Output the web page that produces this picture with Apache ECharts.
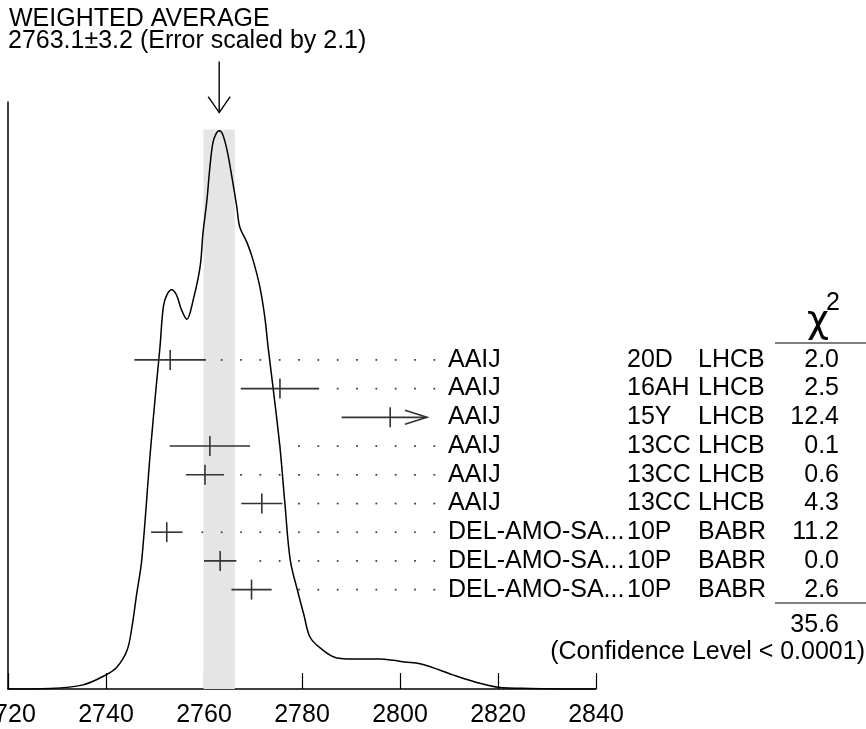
<!DOCTYPE html>
<html>
<head>
<meta charset="utf-8">
<title>Weighted average ideogram</title>
<script src="https://cdn.jsdelivr.net/npm/echarts@6/dist/echarts.min.js"></script>
<style>
    html, body { margin: 0; padding: 0; background: #fff; }
    #main { width: 866px; height: 729px; }
</style>
</head>
<body>
<div id="main"></div>
<script>
// ideogram curve (mass, relative density)
var idMass = [2720.0, 2728.6, 2735.3, 2740.0, 2742.2, 2744.3, 2745.3, 2746.3, 2747.3, 2749.0,
    2750.2, 2751.0, 2751.7, 2752.4, 2753.4, 2754.4, 2755.4, 2756.5, 2757.8, 2759.2,
    2759.8, 2760.6, 2761.2, 2761.8, 2762.4, 2763.1, 2763.8, 2764.7, 2765.7, 2766.7,
    2767.3, 2768.8, 2770.0, 2771.4, 2772.4, 2773.1, 2774.1, 2775.5, 2776.5, 2777.6,
    2779.2, 2780.4, 2781.6, 2783.7, 2787.1, 2791.8, 2795.9, 2798.6, 2801.0, 2804.1,
    2808.2, 2810.8, 2815.3, 2820.0, 2826.5, 2840.0];
var idDensity = [0.000, 0.001, 0.007, 0.024, 0.037, 0.066, 0.106, 0.164, 0.220, 0.399,
    0.511, 0.581, 0.651, 0.671, 0.680, 0.671, 0.646, 0.630, 0.663, 0.719,
    0.777, 0.833, 0.889, 0.930, 0.945, 0.951, 0.945, 0.918, 0.872, 0.821,
    0.787, 0.760, 0.731, 0.685, 0.634, 0.581, 0.513, 0.412, 0.317, 0.220,
    0.164, 0.126, 0.089, 0.070, 0.053, 0.051, 0.051, 0.049, 0.046, 0.043,
    0.032, 0.024, 0.012, 0.003, 0.001, 0.000];

var avgMass = 2763.1;
var avgErr = 3.2;
var avgTop = 0.953;

// measurements
var authors = ["AAIJ", "AAIJ", "AAIJ", "AAIJ", "AAIJ", "AAIJ", "DEL-AMO-SA...", "DEL-AMO-SA...", "DEL-AMO-SA..."];
var refs = ["20D", "16AH", "15Y", "13CC", "13CC", "13CC", "10P", "10P", "10P"];
var exps = ["LHCB", "LHCB", "LHCB", "LHCB", "LHCB", "LHCB", "BABR", "BABR", "BABR"];
var chi2 = ["2.0", "2.5", "12.4", "0.1", "0.6", "4.3", "11.2", "0.0", "2.6"];
var masses = [2753.1, 2775.5, 2798.0, 2761.2, 2760.2, 2771.8, 2752.4, 2763.3, 2769.7];
var sigmas = [7.3, 8.0, 9.9, 8.2, 3.9, 4.2, 3.2, 3.3, 4.1];
var chi2Total = "35.6";
var clText = "(Confidence Level < 0.0001)";

var xTicks = [2720, 2840, 20];

var FAMILY = "'Liberation Sans', Arial, Helvetica, sans-serif";
var FONT = "25px " + FAMILY;
var LABEL_X = 448, REF_X = 627, EXP_X = 698, CHI_X = 839;
var DOT_PITCH = 19.33;
var INK = "#333";

var rows = masses.map(function (m, i) {
    return [m, sigmas[i], i];
});

function txt(s, x, y, align, font) {
    return {
        type: "text",
        style: {
            text: s, x: x, y: y, font: font || FONT, fill: "#000",
            align: align || "left", verticalAlign: "middle"
        }
    };
}

function seg(x1, y1, x2, y2, w, col) {
    return {
        type: "line",
        shape: { x1: x1, y1: y1, x2: x2, y2: y2 },
        style: { stroke: col || INK, lineWidth: w || 1.6 }
    };
}

function renderRow(params, api) {
    var m = api.value(0), s = api.value(1), r = api.value(2);
    var c = api.coord([m, r]);
    var y = c[1];
    var x1 = api.coord([m - s, r])[0];
    var x2 = api.coord([m + s, r])[0];
    var x0 = api.coord([xTicks[0], r])[0];
    var end = LABEL_X - 12;
    var children = [];
    if (x2 > end) {
        var tip = LABEL_X - 21;
        children.push(seg(x1, y, tip, y));
        children.push({
            type: "polyline",
            shape: { points: [[tip - 22, y - 7], [tip, y], [tip - 22, y + 7]] },
            style: { stroke: INK, lineWidth: 1.6, fill: null }
        });
    } else {
        children.push(seg(x1, y, x2, y));
        for (var k = 0; ; k++) {
            var dx = x0 + 1 + k * DOT_PITCH;
            if (dx > end) break;
            if (dx >= x2 + 13) {
                children.push({
                    type: "rect",
                    shape: { x: dx - 0.8, y: y - 0.8, width: 1.7, height: 1.7 },
                    style: { fill: INK }
                });
            }
        }
    }
    children.push(seg(c[0], y - 10, c[0], y + 10));
    var i = params.dataIndex;
    children.push(txt(authors[i], LABEL_X, y));
    children.push(txt(refs[i], REF_X, y));
    children.push(txt(exps[i], EXP_X, y));
    children.push(txt(chi2[i], CHI_X, y, "right"));
    return { type: "group", children: children };
}

function renderAvg(params, api) {
    var p = api.coord([api.value(0), avgTop]);
    var x = p[0], yb = p[1] - 17;
    return {
        type: "group",
        children: [
            seg(x, yb - 51, x, yb, 1.4, "#000"),
            {
                type: "polyline",
                shape: { points: [[x - 11, yb - 16], [x, yb], [x + 11, yb - 16]] },
                style: { stroke: "#000", lineWidth: 1.4, fill: null }
            }
        ]
    };
}

var chart = echarts.init(document.getElementById("main"));

var option = {
    backgroundColor: "#fff",
    animation: false,
    grid: { left: 8, right: 270, top: 102, bottom: 40, containLabel: false, outerBoundsMode: "none" },
    xAxis: {
        type: "value",
        min: xTicks[0],
        max: xTicks[1],
        interval: xTicks[2],
        axisLine: { show: true, lineStyle: { color: "#000", width: 1.5 } },
        axisTick: { show: true, inside: true, length: 16, lineStyle: { color: "#000", width: 1.2 } },
        axisLabel: {
            show: true, color: "#000", fontSize: 25, margin: 14,
            fontFamily: FAMILY,
            showMinLabel: true, showMaxLabel: true,
            formatter: function (v) { return String(v); }
        },
        splitLine: { show: false }
    },
    yAxis: [{
        type: "value",
        min: 0,
        max: 1,
        axisLine: { show: true, lineStyle: { color: "#000", width: 1.5 } },
        axisTick: { show: false },
        axisLabel: { show: false },
        splitLine: { show: false }
    }, {
        type: "value",
        inverse: true,
        min: -8.98,
        max: 11.46,
        show: false
    }],
    graphic: [
        { type: "text", style: { text: "WEIGHTED AVERAGE", x: 9, y: 19, font: FONT, fill: "#000", verticalAlign: "middle" } },
        { type: "text", style: { text: "2763.1\u00b13.2 (Error scaled by 2.1)", x: 8, y: 41, font: FONT, fill: "#000", verticalAlign: "middle" } },
        { type: "text", style: { text: "\u03c7", x: 818, y: 322, font: "38px 'DejaVu Sans', sans-serif", fill: "#000", align: "center", verticalAlign: "middle" } },
        { type: "text", style: { text: "2", x: 833, y: 303, font: FONT, fill: "#000", align: "center", verticalAlign: "middle" } },
        { type: "line", shape: { x1: 775, y1: 343, x2: 866, y2: 343 }, style: { stroke: "#555", lineWidth: 1.5 } },
        { type: "line", shape: { x1: 775, y1: 603, x2: 866, y2: 603 }, style: { stroke: "#555", lineWidth: 1.5 } },
        { type: "text", style: { text: chi2Total, x: CHI_X, y: 625, font: FONT, fill: "#000", align: "right", verticalAlign: "middle" } },
        { type: "text", style: { text: clText, x: 865, y: 652, font: FONT, fill: "#000", align: "right", verticalAlign: "middle" } }
    ],
    series: [{
        type: "line",
        data: idMass.map(function (m, i) { return [m, idDensity[i]]; }),
        smooth: 0.35,
        symbol: "none",
        lineStyle: { color: "#000", width: 1.5 },
        z: 3,
        markArea: {
            silent: true,
            itemStyle: { color: "#e5e5e5" },
            data: [[{ xAxis: avgMass - avgErr, yAxis: 0 }, { xAxis: avgMass + avgErr, yAxis: avgTop }]]
        }
    }, {
        type: "custom",
        yAxisIndex: 1,
        data: rows,
        renderItem: renderRow,
        clip: false,
        z: 4
    }, {
        type: "custom",
        data: [[avgMass]],
        renderItem: renderAvg,
        clip: false,
        z: 4
    }]
};

chart.setOption(option);
</script>
</body>
</html>
